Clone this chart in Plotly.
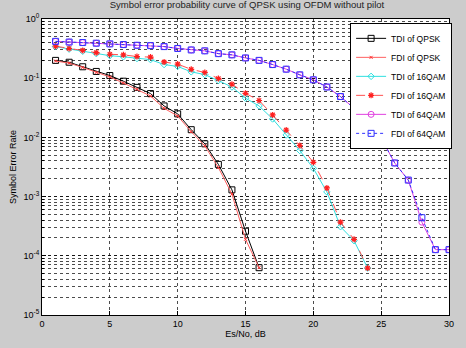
import plotly.graph_objects as go

snr_qpsk = list(range(1, 17))
tdi_qpsk = [0.20, 0.186, 0.156, 0.13, 0.111, 0.089, 0.070, 0.055, 0.034, 0.025, 0.0135, 0.0078, 0.0035, 0.0013, 2.6e-4, 6.3e-5]
fdi_qpsk = [0.195, 0.18, 0.152, 0.125, 0.105, 0.083, 0.065, 0.050, 0.031, 0.023, 0.0125, 0.0072, 0.0031, 0.0011, 1.9e-4, 6.3e-5]

snr_16 = list(range(1, 25))
tdi_16qam = [0.34, 0.31, 0.285, 0.26, 0.24, 0.23, 0.215, 0.206, 0.17, 0.158, 0.128, 0.115, 0.091, 0.071, 0.046, 0.034, 0.0205, 0.011, 0.006, 0.003, 0.0012, 3.1e-4, 1.8e-4, 6.2e-5]
fdi_16qam = [0.347, 0.317, 0.295, 0.27, 0.254, 0.248, 0.232, 0.227, 0.188, 0.173, 0.141, 0.125, 0.099, 0.079, 0.0556, 0.042, 0.024, 0.0133, 0.0073, 0.0038, 0.0014, 3.7e-4, 1.9e-4, 6.2e-5]

snr_64 = list(range(1, 31))
tdi_64qam = [0.419, 0.408, 0.40, 0.39, 0.38, 0.37, 0.36, 0.355, 0.342, 0.318, 0.30, 0.29, 0.26, 0.248, 0.22, 0.20, 0.17, 0.142, 0.114, 0.094, 0.071, 0.049, 0.031, 0.020, 0.0097, 0.0037, 0.0019, 3.7e-4, 1.27e-4, 1.27e-4]
fdi_64qam = [0.419, 0.408, 0.40, 0.39, 0.38, 0.37, 0.36, 0.355, 0.342, 0.318, 0.30, 0.29, 0.26, 0.248, 0.22, 0.20, 0.17, 0.142, 0.114, 0.094, 0.071, 0.049, 0.031, 0.020, 0.0097, 0.0037, 0.0019, 4.4e-4, 1.27e-4, 1.27e-4]

y_tickvals = [1, 1e-1, 1e-2, 1e-3, 1e-4, 1e-5]
y_ticktext = ["10<sup>0</sup>", "10<sup>-1</sup>", "10<sup>-2</sup>", "10<sup>-3</sup>", "10<sup>-4</sup>", "10<sup>-5</sup>"]
x_tickvals = [0, 5, 10, 15, 20, 25, 30]

fig = go.Figure()
fig.add_trace(go.Scatter(x=snr_qpsk, y=tdi_qpsk, name="TDI of QPSK", mode="lines+markers",
                         line=dict(color="#000000", width=1),
                         marker=dict(symbol="square-open", size=6, color="#000000", line=dict(width=1))))
fig.add_trace(go.Scatter(x=snr_qpsk, y=fdi_qpsk, name="FDI of QPSK", mode="lines+markers",
                         line=dict(color="#ff6060", width=1),
                         marker=dict(symbol="x-thin-open", size=3, color="#ff3030", line=dict(width=1))))
fig.add_trace(go.Scatter(x=snr_16, y=tdi_16qam, name="TDI of 16QAM", mode="lines+markers",
                         line=dict(color="#30e0e0", width=1),
                         marker=dict(symbol="diamond-open", size=5, color="#30e0e0", line=dict(width=1))))
fig.add_trace(go.Scatter(x=snr_16, y=fdi_16qam, name="FDI of 16QAM", mode="lines+markers",
                         line=dict(color="#ff5050", width=1, dash="dash"),
                         marker=dict(symbol="asterisk-open", size=5, color="#ff2020", line=dict(width=1.2))))
fig.add_trace(go.Scatter(x=snr_64, y=tdi_64qam, name="TDI of 64QAM", mode="lines+markers",
                         line=dict(color="#e040e0", width=1),
                         marker=dict(symbol="circle-open", size=6, color="#e040e0", line=dict(width=1))))
fig.add_trace(go.Scatter(x=snr_64, y=fdi_64qam, name="FDI of 64QAM", mode="lines+markers",
                         line=dict(color="#3030ff", width=1, dash="dot"),
                         marker=dict(symbol="square-open", size=6, color="#3030ff", line=dict(width=1))))

grid_col = "rgba(0,0,0,0.7)"
fig.update_layout(
    width=466, height=348,
    margin=dict(l=37, r=12, t=16, b=24),
    paper_bgcolor="#cccccc", plot_bgcolor="#ffffff",
    font=dict(family="Liberation Sans, Arial, sans-serif", size=9, color="#000000"),
    title=dict(text="Symbol error probability curve of QPSK using OFDM without pilot",
               x=0.53, xanchor="center", y=0.995, yanchor="top", font=dict(size=9.5, color="#222222")),
    showlegend=True,
    legend=dict(x=0.757, y=0.987, xanchor="left", yanchor="top", bgcolor="#ffffff",
                bordercolor="#000000", borderwidth=1, font=dict(size=8.5),
                tracegroupgap=0, itemwidth=30),
    xaxis=dict(range=[0, 30], tickvals=x_tickvals, showgrid=True, gridcolor=grid_col, griddash="dot",
               gridwidth=1, showline=True, linecolor="#000000", linewidth=1, mirror=True,
               ticks="inside", ticklen=4, tickcolor="#000000", zeroline=False,
               title=dict(text="Es/No, dB", standoff=1, font=dict(size=9))),
    yaxis=dict(type="log", range=[-5, 0], tickvals=y_tickvals, ticktext=y_ticktext,
               showgrid=True, gridcolor=grid_col, griddash="dot", gridwidth=1,
               showline=True, linecolor="#000000", linewidth=1, mirror=True,
               ticks="inside", ticklen=4, tickcolor="#000000", zeroline=False,
               minor=dict(dtick="D1", showgrid=True, gridcolor=grid_col, griddash="dot", gridwidth=1,
                          ticks="inside", ticklen=2, tickcolor="#000000"),
               title=dict(text="Symbol Error Rate", standoff=5, font=dict(size=9))),
)
fig.write_html("out.html")
